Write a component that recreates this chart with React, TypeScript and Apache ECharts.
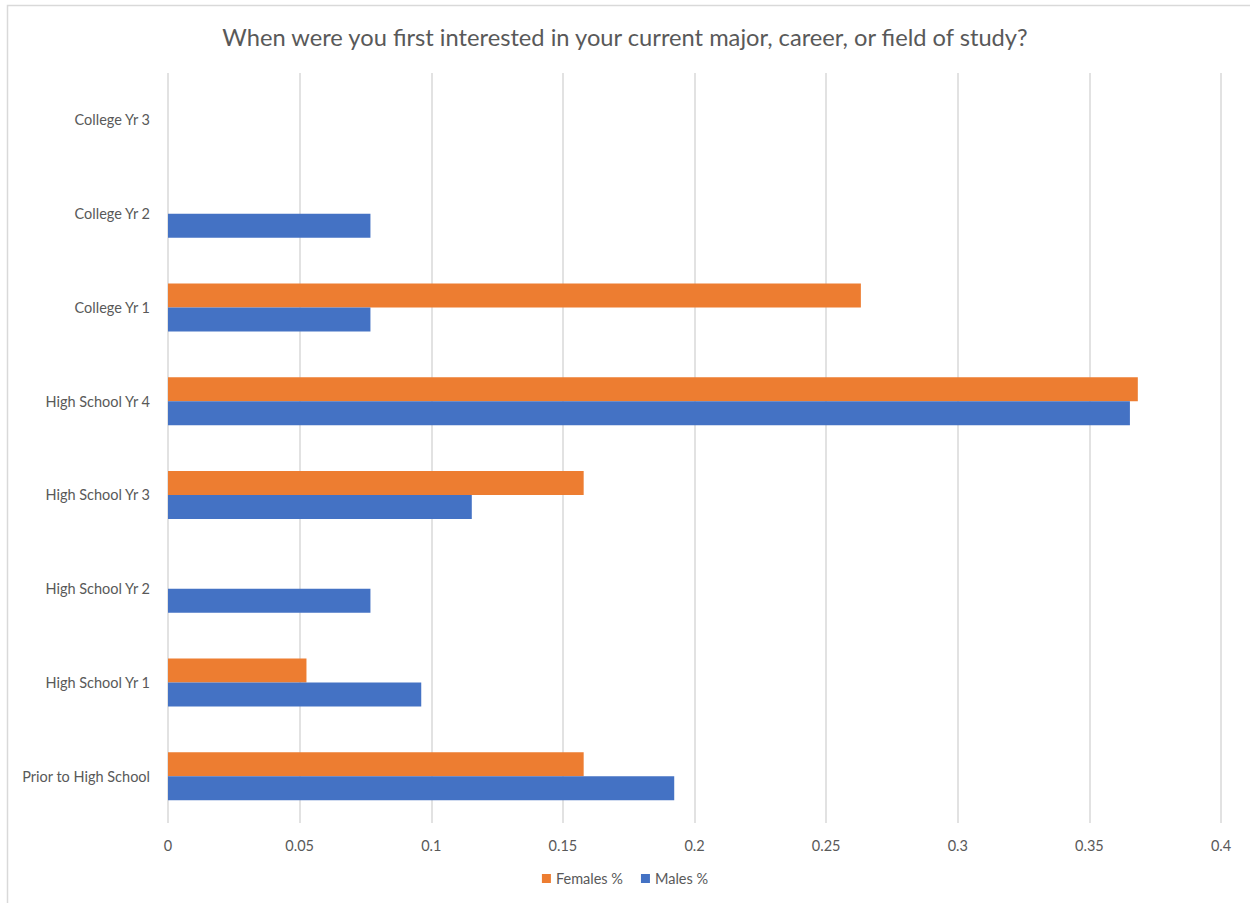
import React, { useEffect, useRef } from "react";
import * as echarts from "echarts";

// Categories from bottom to top of the chart
const categories = [
  "Prior to High School",
  "High School Yr 1",
  "High School Yr 2",
  "High School Yr 3",
  "High School Yr 4",
  "College Yr 1",
  "College Yr 2",
  "College Yr 3",
];

// Share of respondents per starting point
const malesPct = [0.1923, 0.0962, 0.0769, 0.1154, 0.3654, 0.0769, 0.0769, 0];
const femalesPct = [0.1579, 0.0526, 0, 0.1579, 0.3684, 0.2632, 0, 0];

const xTicks = { min: 0, max: 0.4, interval: 0.05 };

const titleText = "When were you first interested in your current major, career, or field of study?";

const FONT = "Lato, 'Open Sans', sans-serif";
const TEXT = "#595959";

export default function App() {
  const ref = useRef<HTMLDivElement>(null);

  useEffect(() => {
    if (!ref.current) return;
    const chart = echarts.init(ref.current, undefined, { renderer: "svg" });
    chart.setOption({
      animation: false,
      backgroundColor: "#ffffff",
      textStyle: { fontFamily: FONT },
      title: {
        text: titleText,
        left: "center",
        top: 20,
        textStyle: { fontSize: 23.7, fontWeight: "normal", color: TEXT, fontFamily: FONT },
      },
      graphic: [
        {
          type: "rect",
          shape: { x: 7.5, y: 5.5, width: 1400, height: 1000 },
          style: { fill: "none", stroke: "#d9d9d9", lineWidth: 1.5 },
          silent: true,
        },
      ],
      legend: {
        data: ["Females %", "Males %"],
        bottom: 12,
        left: "center",
        itemWidth: 9,
        itemHeight: 9,
        itemGap: 18,
        icon: "rect",
        textStyle: { fontSize: 14.5, color: TEXT, fontFamily: FONT },
      },
      grid: { left: 168, right: 29, top: 73, bottom: 80, containLabel: false },
      xAxis: {
        type: "value",
        min: xTicks.min,
        max: xTicks.max,
        interval: xTicks.interval,
        axisLine: { show: false },
        axisTick: { show: false },
        axisLabel: { color: TEXT, fontSize: 14.5, margin: 15, fontFamily: FONT },
        splitLine: { show: true, lineStyle: { color: "#d9d9d9", width: 1.5 } },
      },
      yAxis: {
        type: "category",
        data: categories,
        axisLine: { show: false },
        axisTick: { show: false },
        axisLabel: { color: TEXT, fontSize: 14.5, margin: 18, fontFamily: FONT },
        splitLine: { show: false },
      },
      series: [
        {
          name: "Females %",
          type: "bar",
          data: femalesPct,
          barWidth: 24,
          barGap: "0%",
          itemStyle: { color: "#ED7D31" },
        },
        {
          name: "Males %",
          type: "bar",
          data: malesPct,
          barWidth: 24,
          barGap: "0%",
          itemStyle: { color: "#4472C4" },
        },
      ],
    });
    return () => chart.dispose();
  }, []);

  return (
    <div
      ref={ref}
      style={{ position: "fixed", left: 0, top: 0, width: 1250, height: 903 }}
    />
  );
}
